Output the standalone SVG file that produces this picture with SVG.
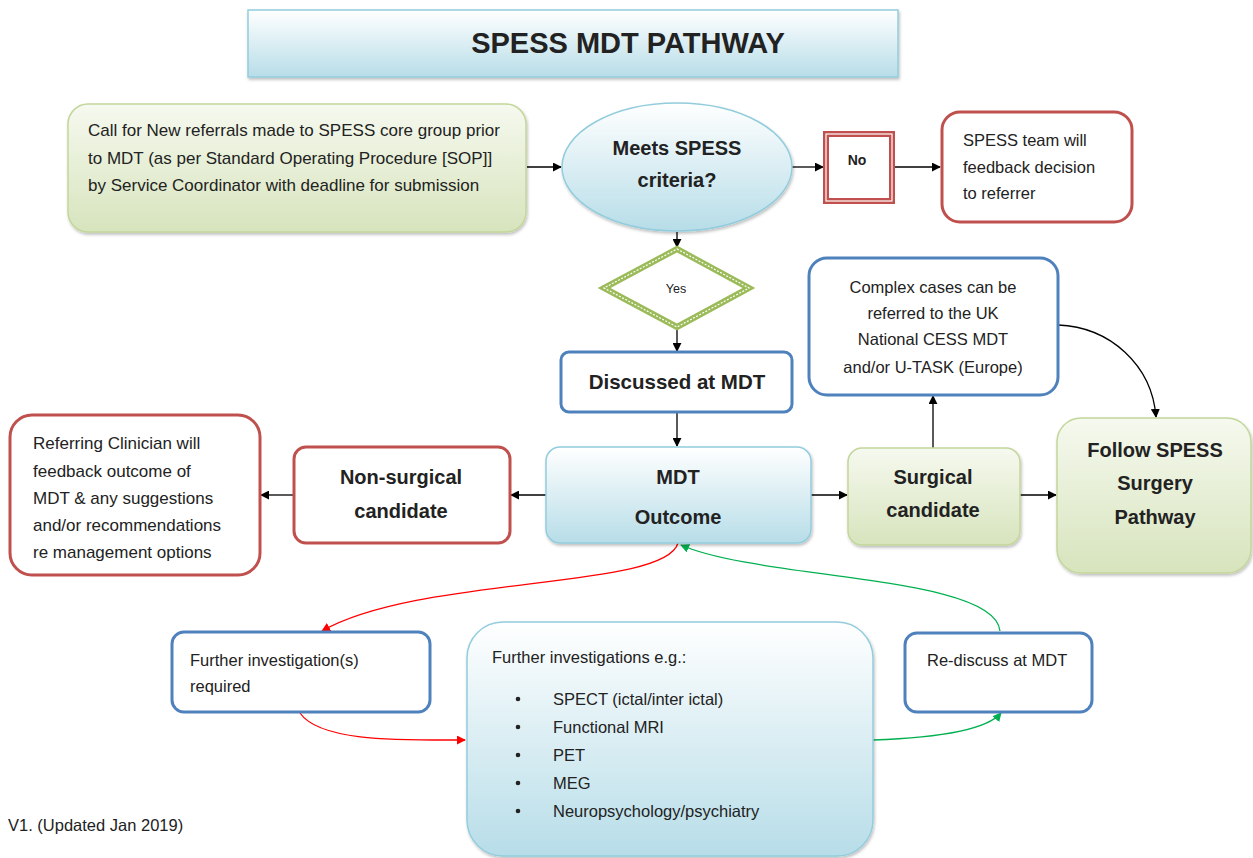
<svg xmlns="http://www.w3.org/2000/svg" width="1253" height="858" viewBox="0 0 1253 858">
<defs>
<linearGradient id="gBlue" x1="0" y1="0" x2="0" y2="1"><stop offset="0" stop-color="#ffffff"/><stop offset="1" stop-color="#b7dde8"/></linearGradient>
<linearGradient id="gGreen" x1="0" y1="0" x2="0" y2="1"><stop offset="0" stop-color="#f6f9ef"/><stop offset="1" stop-color="#d7e4bd"/></linearGradient>
<filter id="sh" x="-10%" y="-10%" width="120%" height="130%"><feDropShadow dx="1" dy="2" stdDeviation="1.5" flood-color="#000" flood-opacity="0.25"/></filter>
<marker id="aK" viewBox="0 0 10 10" refX="9" refY="5" markerWidth="9" markerHeight="9" markerUnits="userSpaceOnUse" orient="auto"><path d="M0,0 L10,5 L0,10 z" fill="#000"/></marker>
<marker id="aR" viewBox="0 0 10 10" refX="9" refY="5" markerWidth="9" markerHeight="9" markerUnits="userSpaceOnUse" orient="auto"><path d="M0,0 L10,5 L0,10 z" fill="#ff0000"/></marker>
<marker id="aG" viewBox="0 0 10 10" refX="9" refY="5" markerWidth="9" markerHeight="9" markerUnits="userSpaceOnUse" orient="auto"><path d="M0,0 L10,5 L0,10 z" fill="#00b050"/></marker>
</defs>
<style>
text{font-family:"Liberation Sans",Arial,sans-serif;fill:#222}
.t{font-size:16.5px}
.b{font-weight:bold;font-size:20px;text-anchor:middle}
.red{fill:#fff;stroke:#c0504d;stroke-width:3}
.blue{fill:#fff;stroke:#4f81bd;stroke-width:3}
.grn{fill:url(#gGreen);stroke:#c3d69b;stroke-width:1.5}
.lb{fill:url(#gBlue);stroke:#93cddd;stroke-width:1.5}
.c{fill:none;stroke:#000;stroke-width:1.3}
.cr{fill:none;stroke:#ff0000;stroke-width:1.3}
.cg{fill:none;stroke:#00b050;stroke-width:1.3}
</style>

<g id="title"><rect x="248" y="10" width="650" height="67" class="lb" filter="url(#sh)"/><text x="628" y="53" style="font-weight:bold;font-size:29px;text-anchor:middle">SPESS MDT PATHWAY</text></g>

<g id="connectors">
<line x1="527" y1="167" x2="561" y2="167" class="c" marker-end="url(#aK)"/>
<line x1="792" y1="167" x2="823" y2="167" class="c" marker-end="url(#aK)"/>
<line x1="894" y1="167" x2="940" y2="167" class="c" marker-end="url(#aK)"/>
<line x1="677" y1="232" x2="677" y2="247" class="c" marker-end="url(#aK)"/>
<line x1="677" y1="328" x2="677" y2="351" class="c" marker-end="url(#aK)"/>
<line x1="677" y1="413" x2="677" y2="446" class="c" marker-end="url(#aK)"/>
<line x1="546" y1="495" x2="511" y2="495" class="c" marker-end="url(#aK)"/>
<line x1="293" y1="495" x2="261" y2="495" class="c" marker-end="url(#aK)"/>
<line x1="811" y1="495" x2="847" y2="495" class="c" marker-end="url(#aK)"/>
<line x1="1020" y1="495" x2="1056" y2="495" class="c" marker-end="url(#aK)"/>
<line x1="933" y1="448" x2="933" y2="396" class="c" marker-end="url(#aK)"/>
<path d="M1058,325 C1110,327 1152,365 1156,417" class="c" marker-end="url(#aK)"/>
<path d="M678,543 C665,590 420,575 322,631" class="cr" marker-end="url(#aR)"/>
<path d="M300,713 C320,742 400,740 465,740" class="cr" marker-end="url(#aR)"/>
<path d="M873,740 C930,738 985,732 1001,713" class="cg" marker-end="url(#aG)"/>
<path d="M1000,631 C995,575 760,580 681,545" class="cg" marker-end="url(#aG)"/>
</g>

<g id="referral"><rect x="68" y="104" width="458" height="128" rx="20" class="grn" filter="url(#sh)"/>
<text class="t" style="font-size:17px"><tspan x="88" y="136">Call for New referrals made to SPESS core group prior</tspan><tspan x="88" y="164">to MDT (as per Standard Operating Procedure [SOP]]</tspan><tspan x="88" y="191">by Service Coordinator with deadline for submission</tspan></text></g>

<g id="criteria"><ellipse cx="677" cy="167" rx="115" ry="64" class="lb" filter="url(#sh)"/>
<text class="b"><tspan x="677" y="155">Meets SPESS</tspan><tspan x="677" y="187">criteria?</tspan></text></g>

<g id="no"><rect x="826" y="134" width="66" height="67" fill="#fff" stroke="#c0504d" stroke-width="6"/><rect x="826" y="134" width="66" height="67" fill="none" stroke="#fff" stroke-width="1.2"/>
<text x="857" y="165" style="font-weight:bold;font-size:14px;text-anchor:middle">No</text></g>

<g id="feedback"><rect x="942" y="112" width="190" height="110" rx="18" class="red"/>
<text class="t"><tspan x="963" y="146">SPESS team will</tspan><tspan x="963" y="173">feedback decision</tspan><tspan x="963" y="199">to referrer</tspan></text></g>

<g id="yes"><polygon points="677,249 749,288 677,327 604,288" fill="#fff" stroke="#9bbb59" stroke-width="6"/><polygon points="677,249 749,288 677,327 604,288" fill="none" stroke="#fff" stroke-width="1.2" stroke-dasharray="2 1.5"/>
<text x="676" y="293" style="font-size:12.5px;text-anchor:middle">Yes</text></g>

<g id="discussed"><rect x="561" y="352" width="231" height="60" rx="8" class="blue"/>
<text x="677" y="389" style="font-weight:bold;font-size:20.5px;text-anchor:middle">Discussed at MDT</text></g>

<g id="complex"><rect x="809" y="258" width="249" height="137" rx="18" class="blue"/>
<text class="t" style="text-anchor:middle"><tspan x="933" y="293">Complex cases can be</tspan><tspan x="933" y="319">referred to the UK</tspan><tspan x="933" y="345">National CESS MDT</tspan><tspan x="933" y="373">and/or U-TASK (Europe)</tspan></text></g>

<g id="outcome"><rect x="546" y="447" width="265" height="96" rx="14" class="lb" filter="url(#sh)"/>
<text class="b"><tspan x="678" y="484">MDT</tspan><tspan x="678" y="524">Outcome</tspan></text></g>

<g id="nonsurgical"><rect x="294" y="447" width="216" height="96" rx="12" class="red"/>
<text class="b"><tspan x="401" y="484">Non-surgical</tspan><tspan x="401" y="518">candidate</tspan></text></g>

<g id="referring"><rect x="10" y="415" width="250" height="160" rx="22" class="red"/>
<text class="t" style="font-size:17px"><tspan x="33" y="449">Referring Clinician will</tspan><tspan x="33" y="477">feedback outcome of</tspan><tspan x="33" y="504">MDT &amp; any suggestions</tspan><tspan x="33" y="531">and/or recommendations</tspan><tspan x="33" y="558">re management options</tspan></text></g>

<g id="surgical"><rect x="848" y="448" width="172" height="97" rx="14" class="grn" filter="url(#sh)"/>
<text class="b"><tspan x="933" y="484">Surgical</tspan><tspan x="933" y="517">candidate</tspan></text></g>

<g id="follow"><rect x="1057" y="418" width="194" height="155" rx="24" class="grn" filter="url(#sh)"/>
<text class="b"><tspan x="1155" y="457">Follow SPESS</tspan><tspan x="1155" y="490">Surgery</tspan><tspan x="1155" y="524">Pathway</tspan></text></g>

<g id="further"><rect x="172" y="632" width="258" height="80" rx="12" class="blue"/>
<text class="t"><tspan x="190" y="666">Further investigation(s)</tspan><tspan x="190" y="692">required</tspan></text></g>

<g id="investigations"><rect x="467" y="622" width="406" height="234" rx="36" class="lb" filter="url(#sh)"/>
<text class="t"><tspan x="492" y="663">Further investigations e.g.:</tspan></text>
<g fill="#222"><circle cx="518" cy="699" r="2.3"/><circle cx="518" cy="727" r="2.3"/><circle cx="518" cy="755" r="2.3"/><circle cx="518" cy="783" r="2.3"/><circle cx="518" cy="811" r="2.3"/></g>
<text class="t"><tspan x="553" y="705">SPECT (ictal/inter ictal)</tspan><tspan x="553" y="733">Functional MRI</tspan><tspan x="553" y="761">PET</tspan><tspan x="553" y="789">MEG</tspan><tspan x="553" y="817">Neuropsychology/psychiatry</tspan></text></g>

<g id="rediscuss"><rect x="905" y="633" width="187" height="79" rx="12" class="blue"/>
<text class="t" x="927" y="666">Re-discuss at MDT</text></g>

<g id="version"><text class="t" x="8" y="831">V1. (Updated Jan 2019)</text></g>
</svg>
